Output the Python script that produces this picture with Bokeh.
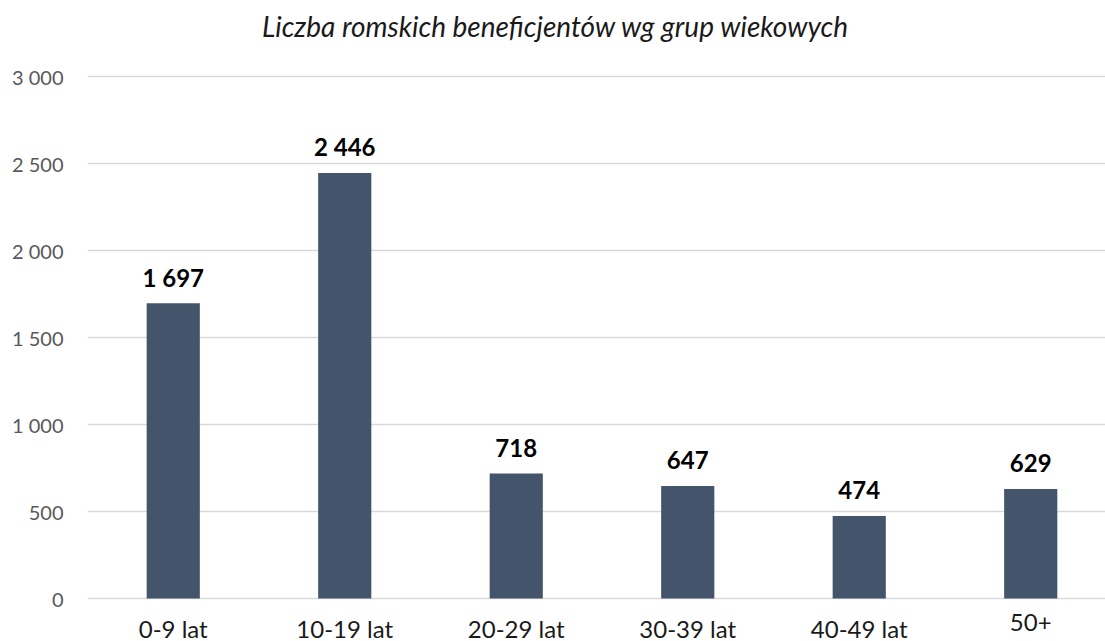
from bokeh.plotting import figure
from bokeh.models import ColumnDataSource, Range1d, Label, CustomJSTickFormatter, FixedTicker
from bokeh.embed import file_html
from bokeh.resources import INLINE
from bokeh.core.properties import value

categories = ["0-9 lat", "10-19 lat", "20-29 lat", "30-39 lat", "40-49 lat", "50+"]
counts = [1697, 2446, 718, 647, 474, 629]
count_labels = ["1 697", "2 446", "718", "647", "474", "629"]
y_ticks = [0, 500, 1000, 1500, 2000, 2500, 3000]
title_text = "Liczba romskich beneficjentów wg grup wiekowych"

FONT = "Lato"

xpos = list(range(len(categories)))
src = ColumnDataSource(dict(x=xpos, val=counts, lab=count_labels,
                            cat=categories, zero=[0] * len(categories)))

# frame spans the full height; the value axis runs 0..3000 inside it
p = figure(width=1105, height=641, x_range=Range1d(-0.5, 5.436), y_range=Range1d(-247, 3437),
           output_backend="svg", toolbar_location=None,
           min_border_left=87, min_border_right=0, min_border_top=0, min_border_bottom=0)

title = Label(x=2.229, y=3293, x_units="data", y_units="data", text=title_text,
              text_font=FONT, text_font_style="italic", text_font_size="28px",
              text_color="#1a1a1a", text_align="center", text_baseline="middle")
p.add_layout(title)

p.vbar(x="x", top="val", width=0.31, source=src, fill_color="#44546A", line_color=None)
p.text(x="x", y="val", text="lab", source=src, text_font=value(FONT), text_font_style="bold",
       text_font_size="24px", text_align="center", text_baseline="alphabetic", y_offset=-26,
       text_color="#000000")
# category labels under the bars
p.text(x="x", y="zero", text="cat", source=src, text_font=value(FONT),
       text_font_size="24px", text_align="center", text_baseline="top", y_offset=15,
       text_color="#1a1a1a")

p.outline_line_color = None
p.xaxis.visible = False
p.xgrid.grid_line_color = None
p.ygrid.grid_line_color = "#D9D9D9"
p.ygrid.grid_line_width = 1.5
p.yaxis.ticker = FixedTicker(ticks=y_ticks)
p.ygrid.ticker = FixedTicker(ticks=y_ticks)
p.yaxis.formatter = CustomJSTickFormatter(code="return tick == 0 ? '0' : tick.toLocaleString('en-US').replace(',', ' ');")
ax = p.yaxis[0]
ax.axis_line_color = None
ax.major_tick_line_color = None
ax.minor_tick_line_color = None
ax.major_tick_out = 0
ax.major_tick_in = 0
ax.major_label_text_font = FONT
ax.major_label_text_color = "#595959"
ax.major_label_text_font_size = "20px"
ax.major_label_standoff = 24

open("out.html", "w").write(file_html(p, INLINE))
